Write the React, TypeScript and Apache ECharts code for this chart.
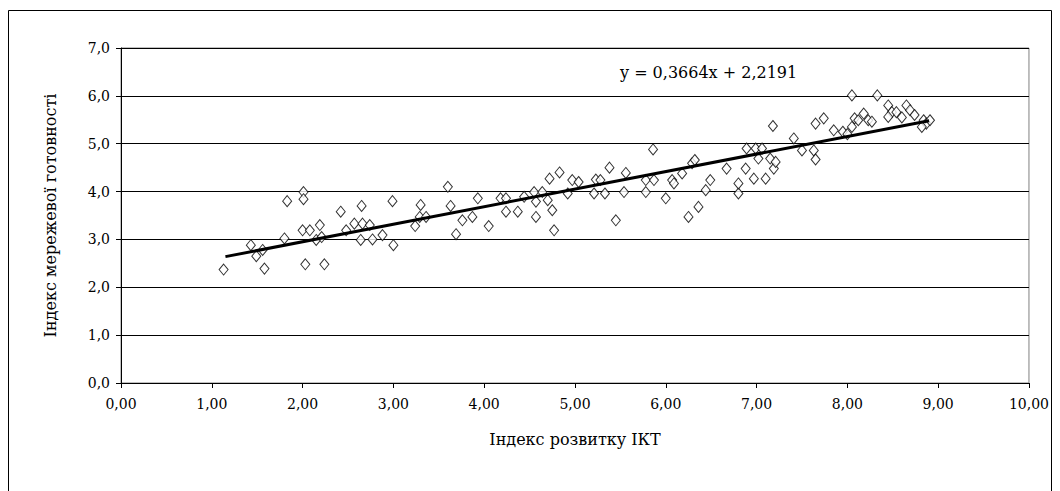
import React, { useEffect, useRef } from "react";
import * as echarts from "echarts";

// Індекс розвитку ІКТ (x) and Індекс мережевої готовності (y)
const ictIndex: number[] = [
  1.13, 1.43, 1.49, 1.58, 1.56, 1.80, 1.83, 2.01, 2.01, 2.03, 2.24, 2.00, 2.08, 2.19, 2.15, 2.21, 2.42, 2.65, 2.48, 2.57, 2.66, 2.64,
  2.74, 2.77, 2.88, 3.00, 2.99, 3.30, 3.29, 3.24, 3.36, 3.60, 3.63, 3.69, 3.76, 3.87, 3.93, 4.05, 4.18, 4.24, 4.24, 4.37, 4.44, 4.55, 4.57, 4.57,
  4.64, 4.70, 4.75, 4.77, 4.72, 4.83, 4.92, 4.97, 5.04, 5.21, 5.23, 5.28, 5.33, 5.38, 5.45, 5.54, 5.56, 5.78, 5.78, 5.87, 5.86, 6.00, 6.07, 6.09, 6.18, 6.25, 6.29, 6.32,
  6.36, 6.44, 6.49, 6.67, 6.80, 6.80, 6.88, 6.89, 6.99, 6.97, 7.02, 7.10, 7.06, 7.15, 7.19, 7.21, 7.18, 7.41, 7.50, 7.63, 7.65, 7.65, 7.74, 7.85, 7.95, 8.05, 8.08,
  8.33, 8.05, 8.12, 8.18, 8.23, 8.27, 8.45, 8.49, 8.45, 8.54, 8.65, 8.69, 8.74, 8.84, 8.87, 8.91, 8.82, 8.00, 8.60,
];
const readinessIndex: number[] = [
  2.37, 2.88, 2.65, 2.39, 2.78, 3.02, 3.80, 3.99, 3.84, 2.48, 2.48, 3.19, 3.19, 3.30, 2.99, 3.05, 3.58, 3.70, 3.19, 3.33, 3.33, 2.99,
  3.30, 3.00, 3.09, 2.88, 3.80, 3.72, 3.47, 3.28, 3.47, 4.10, 3.70, 3.11, 3.40, 3.47, 3.86, 3.28, 3.86, 3.86, 3.58, 3.58, 3.89, 3.99, 3.47, 3.79,
  3.99, 3.82, 3.61, 3.19, 4.27, 4.40, 3.96, 4.24, 4.20, 3.96, 4.25, 4.24, 3.96, 4.50, 3.40, 3.99, 4.39, 4.24, 3.99, 4.24, 4.88, 3.86, 4.24, 4.17, 4.38, 3.47, 4.59, 4.66,
  3.68, 4.03, 4.24, 4.48, 3.96, 4.17, 4.48, 4.90, 4.90, 4.27, 4.69, 4.27, 4.90, 4.69, 4.48, 4.62, 5.37, 5.11, 4.86, 4.86, 4.67, 5.42, 5.53, 5.28, 5.25, 6.01, 5.53,
  6.01, 5.35, 5.49, 5.63, 5.49, 5.46, 5.80, 5.66, 5.56, 5.66, 5.80, 5.70, 5.60, 5.49, 5.42, 5.49, 5.35, 5.20, 5.55,
];

// Linear trend line: y = 0,3664x + 2,2191
const trendSlope = 0.3664;
const trendIntercept = 2.2191;
const trendXRange: number[] = [1.15, 8.9];
const trendLabel = "y = 0,3664x + 2,2191";

const xAxisTitle = "Індекс розвитку ІКТ";
const yAxisTitle = "Індекс мережевої готовності";

const FONT = "'DejaVu Serif', 'Liberation Serif', serif";

export default function App() {
  const ref = useRef<HTMLDivElement>(null);

  useEffect(() => {
    if (!ref.current) return;
    const chart = echarts.init(ref.current, undefined, { renderer: "svg" });
    const scatterData = ictIndex.map((x, i) => [x, readinessIndex[i]]);
    const trendData = trendXRange.map((x) => [x, trendSlope * x + trendIntercept]);

    chart.setOption({
      animation: false,
      backgroundColor: "#ffffff",
      grid: {
        left: 113,
        right: 21,
        top: 40,
        bottom: 108,
        show: true,
        borderColor: "#808080",
        borderWidth: 1,
      },
      xAxis: {
        type: "value",
        min: 0,
        max: 10,
        interval: 1,
        name: xAxisTitle,
        nameLocation: "middle",
        nameGap: 48,
        nameTextStyle: { fontFamily: FONT, fontSize: 16, color: "#000" },
        axisLine: { show: true, onZero: false, lineStyle: { color: "#000", width: 1 } },
        axisTick: { show: true, inside: false, length: 5, lineStyle: { color: "#000" } },
        axisLabel: {
          margin: 14,
          fontFamily: FONT,
          fontSize: 14,
          color: "#000",
          formatter: (v: number) => v.toFixed(2).replace(".", ","),
        },
        splitLine: { show: false },
      },
      yAxis: {
        type: "value",
        min: 0,
        max: 7,
        interval: 1,
        name: yAxisTitle,
        nameLocation: "middle",
        nameGap: 63,
        nameRotate: 90,
        nameTextStyle: { fontFamily: FONT, fontSize: 16, color: "#000" },
        axisLine: { show: true, onZero: false, lineStyle: { color: "#000", width: 1 } },
        axisTick: { show: true, inside: false, length: 5, lineStyle: { color: "#000" } },
        axisLabel: {
          margin: 11,
          fontFamily: FONT,
          fontSize: 14,
          color: "#000",
          formatter: (v: number) => v.toFixed(1).replace(".", ","),
        },
        splitLine: { show: true, lineStyle: { color: "#000", width: 1 } },
      },
      graphic: [
        {
          type: "rect",
          silent: true,
          shape: { x: 0.5, y: 2.5, width: 1043, height: 600 },
          style: { fill: "none", stroke: "#000", lineWidth: 1 },
        },
        {
          type: "text",
          left: 612,
          top: 56,
          style: { text: trendLabel, font: `16px ${FONT}`, fill: "#000" },
        },
      ],
      series: [
        {
          type: "scatter",
          data: scatterData,
          symbol: "diamond",
          symbolSize: [9, 11],
          itemStyle: { color: "#ffffff", borderColor: "#000", borderWidth: 1 },
          z: 2,
        },
        {
          type: "line",
          data: trendData,
          symbol: "none",
          lineStyle: { color: "#000", width: 3 },
          z: 3,
        },
      ],
    });
    return () => chart.dispose();
  }, []);

  return <div ref={ref} style={{ width: 1044, height: 483 }} />;
}
